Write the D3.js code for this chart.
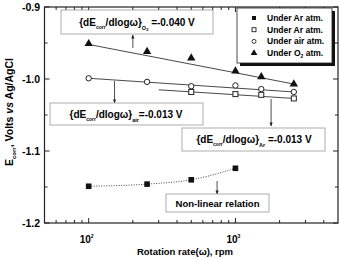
<!DOCTYPE html>
<html>
<head>
<meta charset="utf-8">
<script src="https://cdn.jsdelivr.net/npm/d3@7"></script>
<style>
  body { margin: 0; background: #fff; }
  svg { display: block; font-family: "Liberation Sans", Arial, sans-serif; font-weight: bold; }
</style>
</head>
<body>
<div id="myViz"></div>
<script>
// Datos
const rpmAll = [100, 250, 500, 1000, 1500, 2500];
const eO2 = [-0.951, -0.962, -0.971, -0.989, -0.997, -1.007];
const eAir = [-0.999, -1.004, -1.010, -1.009, -1.014, -1.018];
const rpmArOpen = [500, 1000, 1500, 2500];
const eArOpen = [-1.018, -1.021, -1.022, -1.027];
const rpmArFilled = [100, 250, 500, 1000];
const eArFilled = [-1.149, -1.146, -1.140, -1.124];

// Rectas de ajuste (extremos)
const fitO2 = [[100, -0.952], [2500, -1.007]];
const fitAir = [[100, -0.999], [2500, -1.018]];
const fitAr = [[300, -1.015], [2500, -1.027]];

const yTicks = [-0.9, -1.0, -1.1, -1.2];
const xTicks = [100, 1000];
const legendLabels = ['Under Ar atm.', 'Under Ar atm.', 'Under air atm.', 'Under O2 atm.'];

const width = 340, height = 258;
const plot = {left: 44.5, right: 338, top: 7, bottom: 223};

const svg = d3.select('#myViz').append('svg')
  .attr('width', width).attr('height', height);

const x = d3.scaleLog().domain([50, 5000]).range([plot.left, plot.right]);
const y = d3.scaleLinear().domain([-1.2, -0.9]).range([plot.bottom, plot.top]);

// Marco
svg.append('rect')
  .attr('x', plot.left).attr('y', plot.top)
  .attr('width', plot.right - plot.left).attr('height', plot.bottom - plot.top)
  .attr('fill', 'none').attr('stroke', '#222').attr('stroke-width', 1.2);

// Marcas de ejes (hacia dentro)
const minorX = [];
[10, 100, 1000].forEach(d => { for (let k = 2; k <= 9; k++) minorX.push(d * k); });
const xMinor = minorX.filter(v => v > 50 && v < 5000 && !xTicks.includes(v));
const yMinor = [-0.95, -1.05, -1.15];

const tickG = svg.append('g').attr('stroke', '#222').attr('stroke-width', 1);
xTicks.forEach(v => {
  tickG.append('line').attr('x1', x(v)).attr('x2', x(v)).attr('y1', plot.bottom).attr('y2', plot.bottom - 5);
  tickG.append('line').attr('x1', x(v)).attr('x2', x(v)).attr('y1', plot.top).attr('y2', plot.top + 5);
});
xMinor.forEach(v => {
  tickG.append('line').attr('x1', x(v)).attr('x2', x(v)).attr('y1', plot.bottom).attr('y2', plot.bottom - 3);
  tickG.append('line').attr('x1', x(v)).attr('x2', x(v)).attr('y1', plot.top).attr('y2', plot.top + 3);
});
yTicks.forEach(v => {
  tickG.append('line').attr('x1', plot.left).attr('x2', plot.left + 5).attr('y1', y(v)).attr('y2', y(v));
  tickG.append('line').attr('x1', plot.right).attr('x2', plot.right - 5).attr('y1', y(v)).attr('y2', y(v));
});
yMinor.forEach(v => {
  tickG.append('line').attr('x1', plot.left).attr('x2', plot.left + 3).attr('y1', y(v)).attr('y2', y(v));
  tickG.append('line').attr('x1', plot.right).attr('x2', plot.right - 3).attr('y1', y(v)).attr('y2', y(v));
});

// Etiquetas de ejes
svg.append('g').selectAll('text').data(yTicks).enter().append('text')
  .attr('x', plot.left - 4.5).attr('y', d => y(d) + 3.8)
  .attr('text-anchor', 'end').attr('font-size', 10.5)
  .text(d => d3.format('.1f')(d).replace('−', '-'));

const xLab = svg.append('g').selectAll('text').data(xTicks).enter().append('text')
  .attr('x', d => x(d) - 2).attr('y', 243)
  .attr('text-anchor', 'middle').attr('font-size', 10);
xLab.append('tspan').text('10');
xLab.append('tspan').attr('font-size', 5).attr('dy', -5).text(d => Math.log10(d));

svg.append('text').attr('x', 185).attr('y', 255)
  .attr('text-anchor', 'middle').attr('font-size', 9.5)
  .text('Rotation rate(ω), rpm');

const yTitle = svg.append('text')
  .attr('transform', 'translate(13,112) rotate(-90)')
  .attr('text-anchor', 'middle').attr('font-size', 10.5);
yTitle.append('tspan').text('E');
yTitle.append('tspan').attr('font-size', 6).attr('dy', 3).text('corr');
yTitle.append('tspan').attr('dy', -3).text(', Volts ');
yTitle.append('tspan').attr('font-style', 'italic').text('vs');
yTitle.append('tspan').text(' Ag/AgCl');

// Rectas de ajuste
const line = d3.line().x(d => x(d[0])).y(d => y(d[1]));
[fitO2, fitAir, fitAr].forEach(f => {
  svg.append('path').attr('d', line(f))
    .attr('fill', 'none').attr('stroke', '#333').attr('stroke-width', 0.9);
});

// Curva no lineal punteada
const curveData = rpmArFilled.map((r, i) => [r, eArFilled[i]]);
svg.append('path')
  .attr('d', d3.line().x(d => x(d[0])).y(d => y(d[1])).curve(d3.curveMonotoneX)(curveData))
  .attr('fill', 'none').attr('stroke', '#333').attr('stroke-width', 0.9)
  .attr('stroke-dasharray', '1,1.5');

// Símbolos
const drawSymbol = (g, type, cx, cy) => {
  if (type === 'sqFill') {
    g.append('rect').attr('x', cx - 2.8).attr('y', cy - 2.8).attr('width', 5.6).attr('height', 5.6).attr('fill', '#111');
  } else if (type === 'sqOpen') {
    g.append('rect').attr('x', cx - 2.5).attr('y', cy - 2.5).attr('width', 5).attr('height', 5)
      .attr('fill', '#fff').attr('stroke', '#222').attr('stroke-width', 1);
  } else if (type === 'circ') {
    g.append('circle').attr('cx', cx).attr('cy', cy).attr('r', 2.7)
      .attr('fill', '#fff').attr('stroke', '#222').attr('stroke-width', 1);
  } else {
    g.append('path').attr('d', d3.symbol().type(d3.symbolTriangle).size(30)())
      .attr('transform', `translate(${cx},${cy})`).attr('fill', '#111');
  }
};

const marks = svg.append('g');
rpmAll.forEach((r, i) => drawSymbol(marks, 'tri', x(r), y(eO2[i])));
rpmAll.forEach((r, i) => drawSymbol(marks, 'circ', x(r), y(eAir[i])));
rpmArOpen.forEach((r, i) => drawSymbol(marks, 'sqOpen', x(r), y(eArOpen[i])));
rpmArFilled.forEach((r, i) => drawSymbol(marks, 'sqFill', x(r), y(eArFilled[i])));

// Flechas
svg.append('defs').append('marker')
  .attr('id', 'arr').attr('viewBox', '0 0 10 10').attr('refX', 9).attr('refY', 5)
  .attr('markerWidth', 5).attr('markerHeight', 5).attr('orient', 'auto')
  .append('path').attr('d', 'M0,1L10,5L0,9Z').attr('fill', '#222');

const arrows = [[200, 48, 35], [150, 81, 103], [1750, 99, 126], [750, 181, 194]];
arrows.forEach(([r, y1, y2]) => {
  svg.append('line').attr('x1', x(r)).attr('x2', x(r)).attr('y1', y1).attr('y2', y2)
    .attr('stroke', '#222').attr('stroke-width', 0.8).attr('marker-end', 'url(#arr)');
});

// Cajas de anotación
const noteBox = (x0, y0, w, h) => svg.append('rect')
  .attr('x', x0).attr('y', y0).attr('width', w).attr('height', h)
  .attr('fill', '#fff').attr('stroke', '#999').attr('stroke-width', 0.8);

const slopeText = (cx, cy, sub, sub2, val) => {
  const t = svg.append('text').attr('x', cx).attr('y', cy)
    .attr('text-anchor', 'middle').attr('font-size', 10);
  t.append('tspan').text('{dE');
  t.append('tspan').attr('font-size', 5).attr('dy', 3).text('corr');
  t.append('tspan').attr('dy', -3).text('/dlogω}');
  t.append('tspan').attr('font-size', 5.5).attr('dy', 3.5).text(sub);
  let back = -3.5;
  if (sub2) {
    t.append('tspan').attr('font-size', 4).attr('dy', 1.5).text(sub2);
    back = -5;
  }
  t.append('tspan').attr('dy', back).text(val);
};

noteBox(61, 10, 152, 24);
slopeText(137, 26, 'O', '2', ' =-0.040 V');

noteBox(50, 103, 153, 22);
slopeText(126, 118, 'air', null, '=-0.013 V');

noteBox(182, 128, 143, 23);
slopeText(254, 143, 'Ar', null, ' =-0.013 V');

noteBox(166, 194, 103, 18);
svg.append('text').attr('x', 217.5).attr('y', 207)
  .attr('text-anchor', 'middle').attr('font-size', 9.5).text('Non-linear relation');

// Leyenda con sombra
const leg = {x: 237, y: 8, w: 95, h: 55};
svg.append('rect').attr('x', leg.x + 3).attr('y', leg.y + 3).attr('width', leg.w).attr('height', leg.h).attr('fill', '#111');
svg.append('rect').attr('x', leg.x).attr('y', leg.y).attr('width', leg.w).attr('height', leg.h)
  .attr('fill', '#fff').attr('stroke', '#222').attr('stroke-width', 0.8);

const legTypes = ['sqFill', 'sqOpen', 'circ', 'tri'];
legendLabels.forEach((lab, i) => {
  const cy = 18 + i * 11.7;
  const g = svg.append('g');
  if (legTypes[i] === 'tri') {
    g.append('path').attr('d', d3.symbol().type(d3.symbolTriangle).size(20)())
      .attr('transform', `translate(254,${cy})`).attr('fill', '#111');
  } else if (legTypes[i] === 'sqFill') {
    g.append('rect').attr('x', 252).attr('y', cy - 2).attr('width', 4).attr('height', 4).attr('fill', '#111');
  } else if (legTypes[i] === 'sqOpen') {
    g.append('rect').attr('x', 252).attr('y', cy - 2).attr('width', 4).attr('height', 4)
      .attr('fill', '#fff').attr('stroke', '#222').attr('stroke-width', 0.9);
  } else {
    g.append('circle').attr('cx', 254).attr('cy', cy).attr('r', 2)
      .attr('fill', '#fff').attr('stroke', '#222').attr('stroke-width', 0.9);
  }
  const t = g.append('text').attr('x', 267).attr('y', cy + 3).attr('font-size', 8.5);
  if (lab.includes('O2')) {
    t.append('tspan').text('Under O');
    t.append('tspan').attr('font-size', 5).attr('dy', 2).text('2');
    t.append('tspan').attr('dy', -2).text(' atm.');
  } else {
    t.text(lab);
  }
});
</script>
</body>
</html>
